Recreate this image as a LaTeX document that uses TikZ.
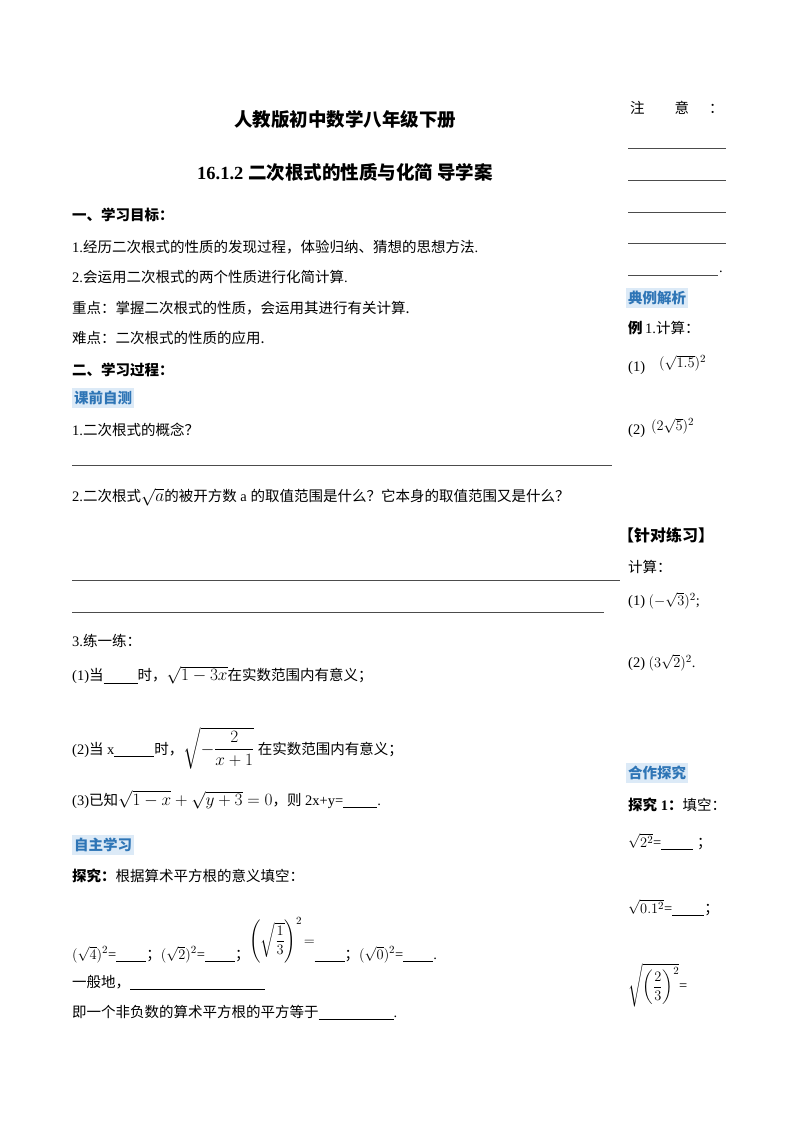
\documentclass[tikz,border=0pt]{standalone}
\usepackage{fontspec}
\usepackage{amsmath}
\newfontfamily\cjk{Noto Sans CJK SC}
\setmainfont{Liberation Serif}
\definecolor{hbg}{HTML}{DCEAF7}
\definecolor{hfg}{HTML}{2E75B6}
\newcommand{\bl}[1]{\rule[-2pt]{#1pt}{0.4pt}}
\tikzset{t/.style={anchor=west,inner sep=0pt,font=\fontsize{14.5}{16}\selectfont},
 hd/.style={t,font=\fontsize{14.5}{16}\selectfont\bfseries},
 hl/.style={anchor=west,fill=hbg,text=hfg,inner xsep=2pt,inner ysep=3pt,font=\fontsize{14.5}{16}\selectfont\cjk\bfseries},
 ln/.style={line width=0.4pt,draw=black!70}}
\begin{document}
\begin{tikzpicture}[x=1pt,y=-1pt]
\useasboundingbox[fill=white] (0,0) rectangle (800,1132);
\node[anchor=center,inner sep=0pt,font=\fontsize{18.5}{20}\selectfont\cjk\bfseries] (ti) at (345,120) {人教版初中数学八年级下册};
\node[anchor=center,inner sep=0pt,font=\fontsize{18.5}{20}\selectfont\bfseries] (st) at (345,172) {16.1.2 {\cjk 二次根式的性质与化简\ 导学案}};
\node[hd] (a1) at (72,215) {\cjk 一、学习目标：};
\node[t] (a2) at (72,247) {1.{\cjk 经历二次根式的性质的发现过程，体验归纳、猜想的思想方法}.};
\node[t] (a3) at (72,277) {2.{\cjk 会运用二次根式的两个性质进行化简计算}.};
\node[t] (a4) at (72,308) {\cjk 重点：掌握二次根式的性质，会运用其进行有关计算.};
\node[t] (a5) at (72,338) {\cjk 难点：二次根式的性质的应用.};
\node[hd] (b1) at (72,370) {\cjk 二、学习过程：};
\node[hl] (h1) at (72,398) {课前自测};
\node[t] (b2) at (72,430) {1.{\cjk 二次根式的概念？}};
\draw[ln] (72,465) coordinate (l1a) -- (612,465) coordinate (l1b);
\node[t] (b3) at (72,497) {2.{\cjk 二次根式}{\fontsize{17}{20}\selectfont$\sqrt{a}$}{\cjk 的被开方数} a {\cjk 的取值范围是什么？它本身的取值范围又是什么？}};
\draw[ln] (72,580) coordinate (l2a) -- (620,580) coordinate (l2b);
\draw[ln] (72,612) coordinate (l3a) -- (604,612) coordinate (l3b);
\node[t] (b4) at (72,641) {3.{\cjk 练一练：}};
\node[t] (b5) at (72,675) {(1){\cjk 当}\bl{34}{\cjk 时，}{\fontsize{17}{20}\selectfont$\sqrt{1-3x}$}{\cjk 在实数范围内有意义；}};
\node[t] (b6) at (72,748) {(2){\cjk 当} x\bl{40}{\cjk 时，}{\fontsize{16}{20}\selectfont$\sqrt{-\dfrac{2}{x+1}}$} {\cjk 在实数范围内有意义；}};
\node[t] (b7) at (72,800) {(3){\cjk 已知}{\fontsize{18}{20}\selectfont$\sqrt{1-x}+\sqrt{y+3}=0$}{\cjk ，则} 2x+y=\bl{34}.};
\node[hl] (h2) at (72,845) {自主学习};
\node[t] (b8) at (72,876) {{\cjk\bfseries 探究：}{\cjk 根据算术平方根的意义填空：}};
\node[t] (b9) at (72,940) {{\fontsize{15.5}{18}\selectfont$(\sqrt{4})^2$}=\bl{30}{\cjk ；}{\fontsize{15.5}{18}\selectfont$(\sqrt{2})^2$}=\bl{30}{\cjk ；}\raisebox{14pt}{\fontsize{15.5}{18}\selectfont$\left(\sqrt{\dfrac13}\right)^{2}\!=$}\bl{30}{\cjk ；}{\fontsize{15.5}{18}\selectfont$(\sqrt{0})^2$}=\bl{30}.};
\node[t] (b10) at (72,982) {{\cjk 一般地，}\bl{135}};
\node[t] (b11) at (72,1012) {{\cjk 即一个非负数的算术平方根的平方等于}\bl{75}.};
% right column
\node[t] (n1) at (630,108) {\cjk 注\hspace{30pt}意\hspace{20pt}：};
\foreach \yy/\xe [count=\i] in {148/726,180/726,212/726,243/726,275/718}
  \draw[ln] (628,\yy) coordinate (r\i a) -- (\xe,\yy) coordinate (r\i b);
\node[t] (dot) at (719,272) {.};
\node[hl] (h3) at (626,298) {典例解析};
\node[t] (e1) at (628,328) {{\cjk\bfseries 例}\,1.{\cjk 计算：}};
\node[t] (e2) at (628,365) {(1)\hspace{14pt}\raisebox{4pt}{\fontsize{15.5}{18}\selectfont$(\sqrt{1.5})^2$}};
\node[t] (e3) at (628,428) {(2)\hspace{6pt}\raisebox{4pt}{\fontsize{15.5}{18}\selectfont$(2\sqrt{5})^2$}};
\node[hd,font=\fontsize{16}{18}\selectfont\bfseries] (p1) at (618,535) {\cjk 【针对练习】};
\node[t] (p2) at (628,567) {\cjk 计算：};
\node[t] (p3) at (628,601) {(1) {\fontsize{15.5}{18}\selectfont$(-\sqrt{3})^2$};};
\node[t] (p4) at (628,663) {(2) {\fontsize{15.5}{18}\selectfont$(3\sqrt{2})^2$}.};
\node[hl] (h4) at (626,773) {合作探究};
\node[t] (q1) at (628,805) {{\cjk\bfseries 探究} \textbf{1}{\cjk\bfseries ：}{\cjk 填空：}};
\node[t] (q2) at (628,842) {{\fontsize{15.5}{18}\selectfont$\sqrt{2^2}$}=\bl{32}\ {\cjk ；}};
\node[t] (q3) at (628,908) {{\fontsize{15.5}{18}\selectfont$\sqrt{0.1^2}$}=\bl{32}{\cjk ；}};
\node[t] (q4) at (628,985) {{\fontsize{15.5}{18}\selectfont$\sqrt{\left(\dfrac23\right)^2}$}=};
\end{tikzpicture}
\end{document}
